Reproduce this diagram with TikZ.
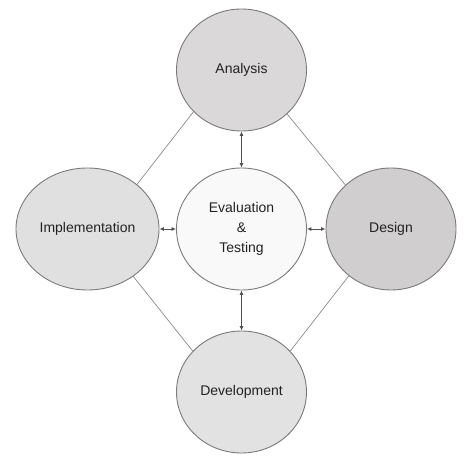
\documentclass[tikz,border=0pt]{standalone}
\usepackage{fontspec}
\setmainfont{Liberation Sans}
\usetikzlibrary{shapes.geometric,arrows.meta}
\definecolor{rim}{HTML}{7A7A7A}
\definecolor{txt}{HTML}{222222}
\definecolor{fillA}{HTML}{DAD8D8}
\definecolor{fillD}{HTML}{D0CECE}
\definecolor{fillI}{HTML}{E0E0E0}
\definecolor{fillV}{HTML}{E2E2E2}
\definecolor{fillE}{HTML}{F9F9F9}
\definecolor{link}{HTML}{8A8A8A}
\definecolor{arr}{HTML}{505050}
\begin{document}
\begin{tikzpicture}[x=1bp,y=-1bp,
  phase/.style={ellipse,draw=rim,line width=0.9bp,inner sep=0pt,
    minimum width=130bp,minimum height=122bp,text=txt,
    font=\fontsize{14bp}{20bp}\selectfont,align=center},
  link/.style={draw=link,line width=0.7bp},
  dbl/.style={draw=arr,line width=0.8bp,{Latex[length=4.5bp,width=4bp]}-{Latex[length=4.5bp,width=4bp]}}]
\useasboundingbox (0,0) rectangle (474,463);
\node[phase,fill=fillA] (ana) at (241.5,70) {Analysis};
\node[phase,fill=fillI,minimum width=143bp] (imp) at (87.5,229) {Implementation};
\node[phase,fill=fillE] (eva) at (241.5,229) {Evaluation\\\&\\Testing};
\node[phase,fill=fillD] (des) at (391,229) {Design};
\node[phase,fill=fillV] (dev) at (241.5,392) {Development};
\draw[link] (ana.221) -- (imp.42);
\draw[link] (ana.316) -- (des.136);
\draw[link] (imp.314) -- (dev.140);
\draw[link] (des.228) -- (dev.40);
\draw[dbl] (ana.south) -- (eva.north);
\draw[dbl] (eva.south) -- (dev.north);
\draw[dbl] (imp.east) -- (eva.west);
\draw[dbl] (eva.east) -- (des.west);
\end{tikzpicture}
\end{document}
